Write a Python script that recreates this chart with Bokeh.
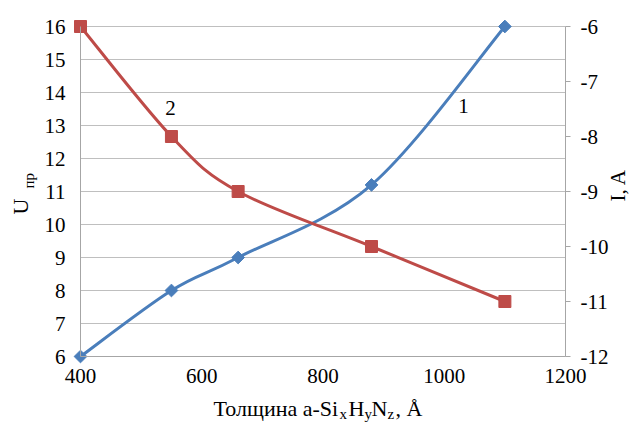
import numpy as np
from bokeh.plotting import figure
from bokeh.models import Range1d, LinearAxis, FixedTicker, Label
from bokeh.embed import file_html
from bokeh.resources import INLINE

# ---- data ----
thickness = [400, 550, 660, 880, 1100]
u_pr = [6, 8, 9, 11.2, 16]          # curve 1, left axis (U_пр)
current = [-6, -8, -9, -10, -11]     # curve 2, right axis (I, A)
x_ticks = [400, 600, 800, 1000, 1200]
left_ticks = list(range(6, 17))
right_ticks = list(range(-12, -5))

# ---- layout geometry (pixels) ----
W, H = 632, 425
PL, PR, PT, PB = 80, 565, 26, 356   # plot area edges

BLUE = "#4a7ebb"
RED = "#be4b48"
GRID = "#bfbfbf"
AXIS = "#a6a6a6"
FONT = "Liberation Serif"


def full_range(lo, hi, p_lo, p_hi, size):
    per = (hi - lo) / (p_hi - p_lo)
    return Range1d(lo - p_lo * per, hi + (size - p_hi) * per)


def bezier_segments(xs, ys):
    xs = np.asarray(xs, float)
    ys = np.asarray(ys, float)
    px = np.concatenate([[xs[0]], xs, [xs[-1]]])
    py = np.concatenate([[ys[0]], ys, [ys[-1]]])
    seg = dict(x0=[], y0=[], x1=[], y1=[], cx0=[], cy0=[], cx1=[], cy1=[])
    for j in range(1, len(xs)):
        seg["x0"].append(px[j]); seg["y0"].append(py[j])
        seg["x1"].append(px[j + 1]); seg["y1"].append(py[j + 1])
        seg["cx0"].append(px[j] + (px[j + 1] - px[j - 1]) / 6)
        seg["cy0"].append(py[j] + (py[j + 1] - py[j - 1]) / 6)
        seg["cx1"].append(px[j + 1] - (px[j + 2] - px[j]) / 6)
        seg["cy1"].append(py[j + 1] - (py[j + 2] - py[j]) / 6)
    return seg


x_lo, x_hi = x_ticks[0], x_ticks[-1]
y_lo, y_hi = left_ticks[0], left_ticks[-1]
i_lo, i_hi = right_ticks[0], right_ticks[-1]

p = figure(width=W, height=H, output_backend="svg", toolbar_location=None,
           x_range=full_range(x_lo, x_hi, PL, PR, W),
           y_range=full_range(y_lo, y_hi, H - PB, H - PT, H),
           min_border=0, min_border_left=0, min_border_right=0,
           min_border_top=0, min_border_bottom=0,
           x_axis_type=None, y_axis_type=None)
p.extra_y_ranges = {"I": full_range(i_lo, i_hi, H - PB, H - PT, H)}
p.outline_line_color = None
p.background_fill_color = "white"
p.border_fill_color = "white"
p.xgrid.visible = False
p.ygrid.visible = False

# horizontal grid lines at the left-axis ticks
p.segment(x0=x_lo, x1=x_hi, y0=left_ticks, y1=left_ticks, line_color=GRID, line_width=1)


def style_axis(ax):
    ax.major_label_text_font = FONT
    ax.major_label_text_font_size = "21px"
    ax.major_label_text_color = "black"
    ax.axis_line_color = AXIS
    ax.major_tick_line_color = None
    ax.minor_tick_line_color = None
    ax.major_tick_out = 0
    ax.major_tick_in = 0


bax = LinearAxis(ticker=FixedTicker(ticks=x_ticks), fixed_location=y_lo, bounds=(x_lo, x_hi))
style_axis(bax)
bax.major_label_standoff = 12
p.add_layout(bax, "below")

lax = LinearAxis(ticker=FixedTicker(ticks=left_ticks), fixed_location=x_lo, bounds=(y_lo, y_hi))
style_axis(lax)
lax.major_label_standoff = 15
p.add_layout(lax, "left")

rax = LinearAxis(y_range_name="I", ticker=FixedTicker(ticks=right_ticks),
                 fixed_location=x_hi, bounds=(i_lo, i_hi))
style_axis(rax)
rax.major_label_overrides = {t: str(t) for t in right_ticks}
rax.major_tick_line_color = AXIS
rax.major_tick_out = 5
rax.major_label_standoff = 10
p.add_layout(rax, "right")

# curves
b1 = bezier_segments(thickness, u_pr)
p.bezier(source=b1, x0="x0", y0="y0", x1="x1", y1="y1", cx0="cx0", cy0="cy0",
         cx1="cx1", cy1="cy1", line_color=BLUE, line_width=3)
b2 = bezier_segments(thickness, current)
p.bezier(source=b2, x0="x0", y0="y0", x1="x1", y1="y1", cx0="cx0", cy0="cy0",
         cx1="cx1", cy1="cy1", line_color=RED, line_width=3, y_range_name="I")

p.scatter(thickness, u_pr, marker="square", angle=np.pi / 4, size=9,
          fill_color=BLUE, line_color=BLUE)
p.scatter(thickness, current, marker="square", size=12, fill_color=RED, line_color=RED,
          y_range_name="I")


def lbl(x, y, text, size="21px", angle=0.0, align="left", baseline="alphabetic"):
    p.add_layout(Label(x=x, y=H - y, x_units="screen", y_units="screen", text=text,
                       text_font=FONT, text_font_size=size, text_color="black",
                       angle=angle, text_align=align, text_baseline=baseline))


# curve numbers
lbl(170, 107, "2", align="center", baseline="middle")
lbl(463, 105, "1", align="center", baseline="middle")

# left title U_пр (rotated)
lbl(20, 214, "U", size="22px", angle=np.pi / 2)
lbl(28, 188, "пр", size="15px", angle=np.pi / 2)

# right title
lbl(617, 201, "I, A", size="21px", angle=np.pi / 2)

# bottom title: Толщина a-Si_x H_y N_z , Å
lbl(213, 408, "Толщина a-Si", size="22px")
lbl(339, 413, "x", size="15px")
lbl(348, 408, "H", size="22px")
lbl(364, 413, "y", size="15px")
lbl(371, 408, "N", size="22px")
lbl(387, 413, "z", size="15px")
lbl(395, 408, ", Å", size="22px")

html = file_html(p, INLINE)
open("out.html", "w").write(html)
